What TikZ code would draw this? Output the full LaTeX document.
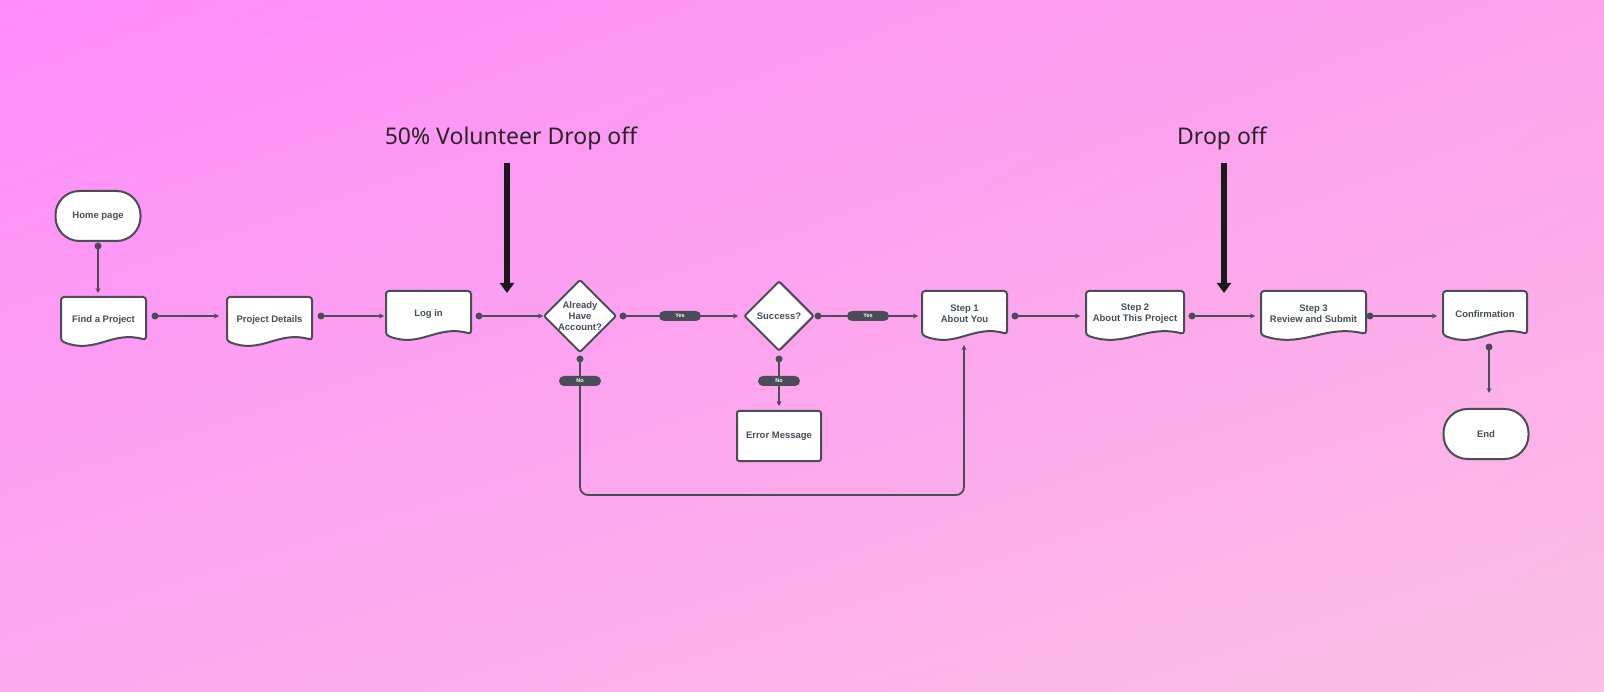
\documentclass[tikz,border=0pt]{standalone}
\usepackage{fontspec}
\setmainfont{Liberation Sans}
\newfontfamily\ttlfont{Noto Sans}
\usetikzlibrary{shapes.geometric,arrows.meta,shadings}
\definecolor{ln}{HTML}{4A4D57}
\definecolor{c1}{HTML}{FF8BFB}
\definecolor{c2}{HTML}{FDA3EC}
\definecolor{c3}{HTML}{FCA9EE}
\definecolor{c4}{HTML}{FBBEE6}
\begin{document}
\begin{tikzpicture}[x=1pt,y=-1pt,
  txt/.style={font=\bfseries\fontsize{9.5}{11}\selectfont,text=ln,align=center,inner sep=0pt},
  box/.style={txt,draw=none,minimum width=#1,minimum height=50pt},
  shp/.style={draw=ln,line width=2pt,fill=white,rounded corners=3pt},
  term/.style={txt,draw=ln,line width=2pt,fill=white,rounded corners=24pt,minimum width=85pt,minimum height=50pt},
  dia/.style={txt,diamond,draw=ln,line width=2pt,fill=white,minimum width=70pt,minimum height=70pt,rounded corners=2pt},
  con/.style={draw=ln,line width=1.8pt,-{Stealth[length=5pt,width=5pt]}},
  dot/.style={circle,fill=ln,inner sep=0pt,minimum size=7pt},
  pill/.style={fill=ln,rounded corners=5pt,minimum width=42pt,minimum height=10pt,inner sep=0pt,text=white,font=\bfseries\fontsize{5.5}{6}\selectfont},
  big/.style={draw=black!90,line width=6pt,-{Triangle[length=10pt,width=14pt]}},
  ttl/.style={font=\ttlfont\fontsize{23}{26}\selectfont,text=black!85}]
\useasboundingbox (0,0) rectangle (1604,692);
\shade[upper left=c1,upper right=c2,lower left=c3,lower right=c4] (0,0) rectangle (1604,692);
% document shapes
\newcommand{\docu}[5]{% name, x0, y0, w, text
  \path[shp] (#2,#3) -- (#2+#4,#3) -- (#2+#4,#3+43)
    .. controls (#2+0.6*#4,#3+33) and (#2+0.4*#4,#3+58) .. (#2,#3+44) -- cycle;
  \node[box=#4] (#1) at (#2+0.5*#4,#3+23) {#5};}
\docu{find}{61}{297}{85}{Find a Project}
\docu{pd}{227}{297}{85}{Project Details}
\docu{login}{386}{291}{85}{Log in}
\docu{s1}{922}{291}{85}{Step 1\\About You}
\docu{s2}{1086}{291}{98}{Step 2\\About This Project}
\docu{s3}{1261}{291}{105}{Step 3\\Review and Submit}
\docu{conf}{1443}{291}{84}{Confirmation}
\node[term] (home) at (98,216) {Home page};
\node[term] (end) at (1486,434) {End};
\node[txt,draw=ln,line width=2pt,fill=white,rounded corners=2pt,minimum width=84pt,minimum height=50pt] (err) at (779,436) {Error Message};
\node[dia] (acc) at (580,316) {Already\\Have\\Account?};
\node[dia] (suc) at (779,316) {Success?};
% connectors
\coordinate (a1) at (98,246); \coordinate (a2) at (98,293);
\draw[con] (a1) -- (a2); \node[dot] at (a1) {};
\newcommand{\hcon}[2]{\coordinate (p) at (#1,316); \coordinate (q) at (#2,316);
  \draw[con] (p) -- (q); \node[dot] at (p) {};}
\hcon{155}{219}\hcon{321}{384}\hcon{479}{543}\hcon{1015}{1080}\hcon{1192}{1255}\hcon{1370}{1437}
\coordinate (y1) at (623,316); \coordinate (y2) at (738,316);
\draw[con] (y1) -- (y2); \node[dot] at (y1) {}; \node[pill] at (680,316) {Yes};
\coordinate (z1) at (818,316); \coordinate (z2) at (918,316);
\draw[con] (z1) -- (z2); \node[dot] at (z1) {}; \node[pill] at (868,316) {Yes};
\coordinate (n1) at (779,359); \coordinate (n2) at (779,406);
\draw[con] (n1) -- (n2); \node[dot] at (n1) {}; \node[pill] at (779,381) {No};
\coordinate (m1) at (580,359); \coordinate (m2) at (964,345);
\draw[con,rounded corners=8pt] (m1) -- (580,495) -- (964,495) -- (m2); \node[dot] at (m1) {}; \node[pill] at (580,381) {No};
\coordinate (c1p) at (1489,347); \coordinate (c2p) at (1489,393);
\draw[con] (c1p) -- (c2p); \node[dot] at (c1p) {};
% drop off
\node[ttl] (t1) at (511,138) {50\% Volunteer Drop off};
\node[ttl] (t2) at (1222,138) {Drop off};
\coordinate (b1) at (507,163); \coordinate (b2) at (507,293);
\coordinate (b3) at (1224,163); \coordinate (b4) at (1224,293);
\draw[big] (b1) -- (b2); \draw[big] (b3) -- (b4);
\end{tikzpicture}
\end{document}
